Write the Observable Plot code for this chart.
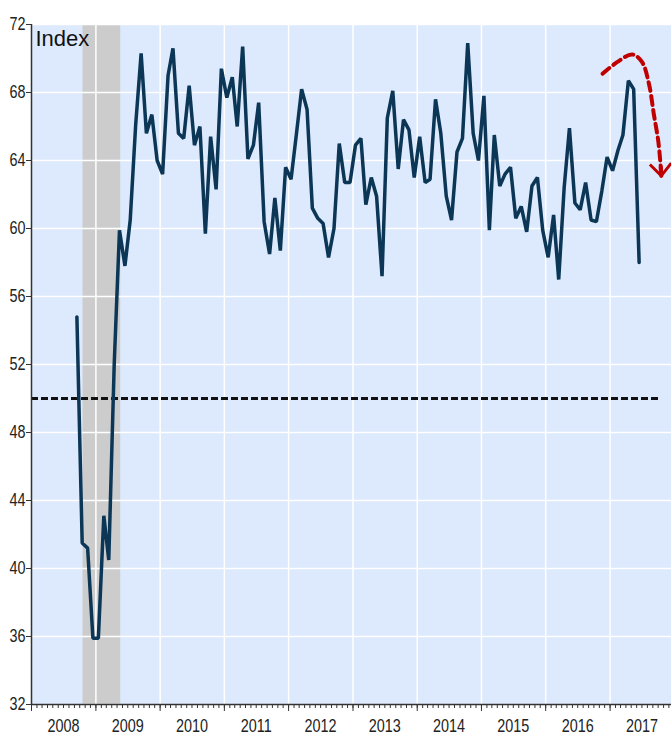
<!DOCTYPE html>
<html><head><meta charset="utf-8">
<script src="https://cdn.jsdelivr.net/npm/d3@7"></script>
<script src="https://cdn.jsdelivr.net/npm/@observablehq/plot@0.6"></script>
<style>
body{margin:0;background:#fff}
#chart svg{display:block}
</style>
</head><body><div id="chart"></div>
<script>
// Series: monthly index, Sep 2008 – Jun 2017
const firstMonth = "2008-09-15";
const values = [
  54.8, 41.5, 41.2, 35.9,
  35.9, 43.1, 40.5, 52.0, 59.9, 57.8, 60.5, 66.1, 70.3, 65.6, 66.7, 64.0,
  63.2, 69.0, 70.6, 65.6, 65.3, 68.4, 64.9, 66.0, 59.7, 65.4, 62.3, 69.4,
  67.7, 68.9, 66.0, 70.7, 64.1, 64.9, 67.4, 60.4, 58.5, 61.8, 58.7, 63.6,
  62.9, 65.6, 68.2, 67.0, 61.2, 60.6, 60.3, 58.3, 60.0, 65.0, 62.7, 62.7,
  64.9, 65.3, 61.4, 63.0, 61.9, 57.2, 66.5, 68.1, 63.5, 66.4, 65.8, 63.0,
  65.4, 62.7, 62.9, 67.6, 65.6, 61.9, 60.5, 64.5, 65.3, 70.9, 65.6, 64.0,
  67.8, 59.9, 65.5, 62.5, 63.2, 63.6, 60.6, 61.3, 59.8, 62.5, 63.0, 59.9,
  58.3, 60.8, 57.0, 62.4, 65.9, 61.5, 61.1, 62.7, 60.5, 60.4, 62.2, 64.2,
  63.4, 64.6, 65.5, 68.7, 68.2, 58.0
];
const recessions = [{start: "2008-10-20", end: "2009-05-22"}];
const yTicks = [32, 36, 40, 44, 48, 52, 56, 60, 64, 68, 72];
const years = [2008, 2009, 2010, 2011, 2012, 2013, 2014, 2015, 2016, 2017];
const refLevel = 50;
const refSpan = {start: "2008-01-01", end: "2017-10-16"};
const xDomain = ["2008-01-01", "2017-12-16"];
const yDomain = [32, 72];
const unitLabel = "Index";
// Annotation arrow (dashed curve pointing down)
const arrowPath = [
  {date: "2016-11-19", value: 69.1},
  {date: "2017-02-12", value: 69.8},
  {date: "2017-05-07", value: 70.24},
  {date: "2017-07-01", value: 69.8},
  {date: "2017-08-10", value: 68.5},
  {date: "2017-09-07", value: 66.7},
  {date: "2017-10-01", value: 65.2},
  {date: "2017-10-16", value: 63.6},
  {date: "2017-10-19", value: 63.1}
];

const parse = s => new Date(s + "T00:00:00Z");
const start = parse(firstMonth);
const series = values.map((v, i) => ({date: d3.utcMonth.offset(start, i), value: v}));
const rec = recessions.map(r => ({start: parse(r.start), end: parse(r.end)}));
const arrow = arrowPath.map(d => ({date: parse(d.date), value: d.value}));
const x0 = parse(xDomain[0]), x1 = parse(xDomain[1]);
const monthTicks = d3.utcMonth.range(x0, x1);
const janTicks = years.map(y => new Date(Date.UTC(y, 0, 1)));
const midTicks = years.map(y => new Date(Date.UTC(y, 6, 1)));

const chart = Plot.plot({
  width: 671,
  height: 736,
  marginLeft: 31,
  marginRight: 0,
  marginTop: 24,
  marginBottom: 32,
  x: {type: "utc", domain: [x0, x1]},
  y: {domain: yDomain},
  style: {
    fontFamily: "'Liberation Sans', Arial, sans-serif",
    fontSize: "18px",
    color: "#222",
    background: "white",
    overflow: "visible"
  },
  marks: [
    Plot.frame({fill: "#dde9fc", stroke: "none"}),
    Plot.rect(rec, {x1: "start", x2: "end", fill: "#cccccc"}),
    Plot.gridY({ticks: yTicks, stroke: "white", strokeOpacity: 1, strokeWidth: 1.5}),
    Plot.gridX({ticks: janTicks.slice(1), stroke: "white", strokeOpacity: 1, strokeWidth: 1.5}),
    Plot.ruleY([{y: refLevel, a: parse(refSpan.start), b: parse(refSpan.end)}],
      {y: "y", x1: "a", x2: "b", stroke: "#111", strokeWidth: 2.8, strokeDasharray: "7,3"}),
    Plot.line(series, {x: "date", y: "value", stroke: "#0b3656", strokeWidth: 3.5, strokeLinejoin: "miter"}),
    Plot.line(arrow, {x: "date", y: "value", curve: "catmull-rom", stroke: "#c00000", strokeWidth: 4, strokeDasharray: "9,5"}),
    Plot.line(arrow.slice(-2), {x: "date", y: "value", stroke: "#c00000", strokeWidth: 4, markerEnd: "arrow"}),
    Plot.text([unitLabel], {frameAnchor: "top-left", textAnchor: "start", lineAnchor: "top", dx: 4, dy: 6, fontSize: 22, fontFamily: "'Liberation Sans', Arial, sans-serif", fill: "#111"}),
    Plot.axisY({ticks: yTicks, tickSize: 5, tickPadding: 1, stroke: "#333", tickFormat: d => String(d)}),
    Plot.axisX({ticks: monthTicks, tickSize: 4, tickFormat: () => "", stroke: "#333"}),
    Plot.axisX({ticks: janTicks, tickSize: 7, tickFormat: () => "", stroke: "#333"}),
    Plot.axisX({ticks: midTicks, tickSize: 0, tickPadding: 15, tickFormat: d => String(d.getUTCFullYear())}),
    Plot.ruleX([x0], {stroke: "#333", strokeWidth: 1.5}),
    Plot.ruleY([yDomain[0]], {stroke: "#333", strokeWidth: 1.5})
  ]
});
// Narrow the axis tick labels horizontally, as in the reference
d3.select(chart).selectAll("text")
  .filter(function() { return this.textContent !== "" && this.textContent !== unitLabel; })
  .attr("transform", function() { const t = this.getAttribute("transform") || ""; return t + " scale(0.8,1)"; });
d3.select(chart).selectAll("marker path").attr("d", "M-4.5,-4L0,0L-4.5,4").attr("stroke-width", 1.1).attr("stroke-linecap", "butt").attr("stroke-linejoin", "miter");
document.getElementById("chart").appendChild(chart);
</script>
</body></html>
